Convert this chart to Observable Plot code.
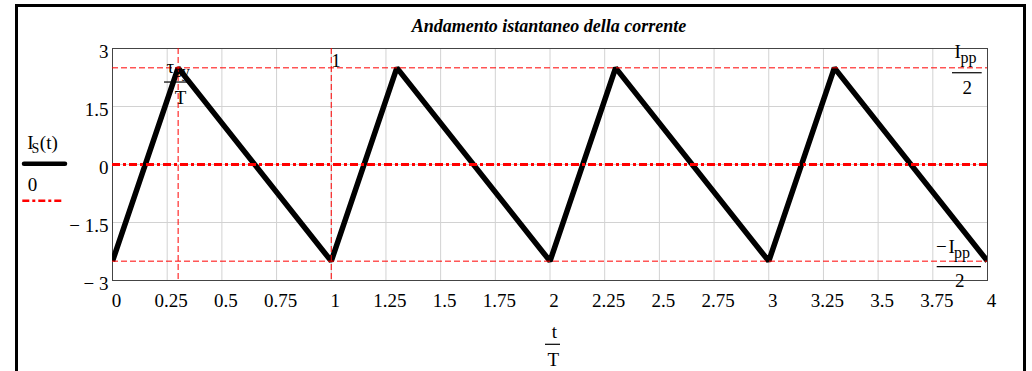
<!DOCTYPE html>
<html>
<head>
<meta charset="utf-8">
<script src="https://cdn.jsdelivr.net/npm/d3@7"></script>
<script src="https://cdn.jsdelivr.net/npm/@observablehq/plot@0.6"></script>
<style>
  body { margin: 0; background: #fff; }
  #wrap { position: relative; width: 1032px; height: 371px; overflow: hidden; }
  #border { position: absolute; left: 15px; top: 4px; width: 1011px; height: 420px;
            border: 3px solid #000; box-sizing: border-box; }
  #chart { position: absolute; left: 0; top: 0; }
</style>
</head>
<body>
<div id="wrap"><div id="border"></div><div id="chart"></div></div>
<script>
// Instantaneous current of the switching cell, time normalised to the period T
const title = "Andamento istantaneo della corrente";
const tauOverT = 0.3;   // τsy / T : end of the rising ramp
const Ipp = 5;          // peak-to-peak current

// triangular current: vertices at t/T
const tOverT = [0, 0.3, 1, 1.3, 2, 2.3, 3, 3.3, 4];
const Is = [-2.5, 2.5, -2.5, 2.5, -2.5, 2.5, -2.5, 2.5, -2.5];

const xTicks = [0, 0.25, 0.5, 0.75, 1, 1.25, 1.5, 1.75, 2, 2.25, 2.5, 2.75, 3, 3.25, 3.5, 3.75, 4];
const yTicks = [-3, -1.5, 0, 1.5, 3];
const xMarkers = [tauOverT, 1];
const yMarkers = [Ipp / 2, -Ipp / 2];

const series = tOverT.map((t, i) => ({t, i: Is[i]}));
const serif = "'Liberation Serif', 'Times New Roman', serif";
const plainFmt = d => String(d);
const minusFmt = d => d < 0 ? "\u2212 " + Math.abs(d) : String(d);

// a piece of text pinned to a data point, offset in pixels from it
const note = (x, y, text, o = {}) =>
  Plot.text([{x, y, text}], {x: "x", y: "y", text: "text", lineAnchor: "bottom",
    textAnchor: "start", fill: "black", fontSize: 19, ...o});
// a piece of text pinned to the frame
const frameNote = (text, o = {}) =>
  Plot.text([text], {text: d => d, lineAnchor: "bottom", textAnchor: "start",
    fill: "black", fontSize: 19, ...o});

const plot = Plot.plot({
  width: 1032,
  height: 371,
  marginLeft: 112,
  marginRight: 45,
  marginTop: 48,
  marginBottom: 91,
  style: {fontFamily: serif, fontSize: "19px", background: "transparent", color: "black"},
  x: {domain: [0, 4], label: null},
  y: {domain: [-3, 3], label: null},
  marks: [
    Plot.gridX(xTicks, {stroke: "#d2d2d2", strokeOpacity: 1}),
    Plot.gridY(yTicks, {stroke: "#d2d2d2", strokeOpacity: 1}),
    Plot.frame({stroke: "#444"}),
    Plot.axisX(xTicks, {tickSize: 0, tickPadding: 13, dx: 4, label: null, tickFormat: plainFmt, fontSize: 19, fill: "black"}),
    Plot.axisY(yTicks, {tickSize: 0, tickPadding: 4, dy: 3.5, label: null, tickFormat: minusFmt, fontSize: 19, fill: "black"}),
    Plot.line(series, {x: "t", y: "i", stroke: "black", strokeWidth: 5.5,
      strokeLinejoin: "bevel", strokeLinecap: "butt", clip: true}),
    Plot.ruleY([0], {stroke: "#ff0000", strokeWidth: 3, strokeDasharray: "8,3,3,3"}),
    Plot.ruleX(xMarkers, {stroke: "#ff0000", strokeWidth: 1, strokeDasharray: "6,3"}),
    Plot.ruleY(yMarkers, {stroke: "#ff0000", strokeWidth: 1, strokeDasharray: "6,3"}),

    // marker labels
    note(tauOverT, Ipp / 2, "τ", {dx: -11.6, dy: 4.7}),
    note(tauOverT, Ipp / 2, "sy", {dx: -2.6, dy: 8.7, fontSize: 16}),
    note(tauOverT, Ipp / 2, "T", {dx: 2.4, dy: 36, textAnchor: "middle"}),
    note(1, Ipp / 2, "1", {dx: 0, dy: -0.6}),
    note(4, Ipp / 2, "I", {dx: -33, dy: -10.3}),
    note(4, Ipp / 2, "pp", {dx: -27, dy: -5.3, fontSize: 16}),
    note(4, Ipp / 2, "2", {dx: -20.3, dy: 26, textAnchor: "middle"}),
    note(4, -Ipp / 2, "\u2212", {dx: -51.5, dy: -7.7}),
    note(4, -Ipp / 2, "I", {dx: -39, dy: -7.7}),
    note(4, -Ipp / 2, "pp", {dx: -33.5, dy: -2.7, fontSize: 16}),
    note(4, -Ipp / 2, "2", {dx: -27.7, dy: 26, textAnchor: "middle"}),

    // title
    frameNote(title, {frameAnchor: "top", textAnchor: "middle", dx: -1, dy: -16.3,
      fontSize: 18, fontWeight: "bold", fontStyle: "italic"}),
    // axis label t / T
    frameNote("t", {frameAnchor: "bottom", textAnchor: "middle", dx: 4.5, dy: 57}),
    frameNote("T", {frameAnchor: "bottom", textAnchor: "middle", dx: 3.2, dy: 85}),
    // legend
    frameNote("I", {frameAnchor: "top-left", dx: -85.3, dy: 100.3}),
    frameNote("S", {frameAnchor: "top-left", dx: -81, dy: 104, fontSize: 14}),
    frameNote("(t)", {frameAnchor: "top-left", dx: -72.7, dy: 100}),
    frameNote("0", {frameAnchor: "top-left", dx: -84.7, dy: 142.7})
  ]
});

document.getElementById("chart").appendChild(plot);

// fraction bars and legend swatches
const svg = d3.select(plot);
const sx = v => plot.scale("x").apply(v);
const sy = v => plot.scale("y").apply(v);
const bar = (x0, x1, y) => svg.append("line")
  .attr("x1", x0).attr("x2", x1).attr("y1", y).attr("y2", y)
  .attr("stroke", "black").attr("stroke-width", 1.2);

bar(sx(tauOverT) - 13.6, sx(tauOverT) + 14.4, sy(Ipp / 2) + 14.7);
bar(sx(4) - 35, sx(4) - 5.3, sy(Ipp / 2) + 5.4);
bar(sx(4) - 50.3, sx(4) - 6, sy(-Ipp / 2) + 6);
const xMid = (sx(0) + sx(4)) / 2;
bar(xMid - 4.5, xMid + 10.5, sy(-3) + 64.3);

const legendX = sx(0) - 88;
svg.append("line")
  .attr("x1", legendX).attr("x2", legendX + 41).attr("y1", 163.7).attr("y2", 163.7)
  .attr("stroke", "black").attr("stroke-width", 4.5).attr("stroke-linecap", "round");
svg.append("line")
  .attr("x1", legendX - 1.7).attr("x2", legendX + 37.7).attr("y1", 200.7).attr("y2", 200.7)
  .attr("stroke", "#ff0000").attr("stroke-width", 2.5).attr("stroke-dasharray", "7,3,3,3");
</script>
</body>
</html>
